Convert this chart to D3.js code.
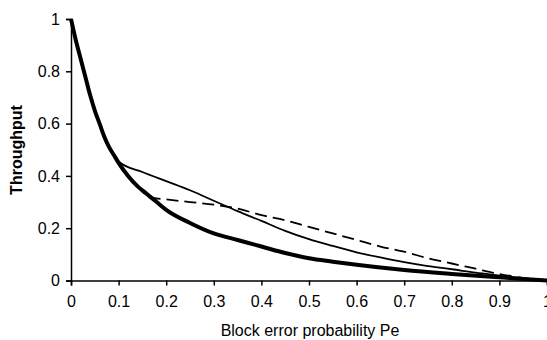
<!DOCTYPE html>
<html>
<head>
<meta charset="utf-8">
<script src="https://cdn.jsdelivr.net/npm/d3@7"></script>
<style>
  body { margin: 0; background: #fff; }
  svg text { font-family: "Liberation Sans", Arial, sans-serif; fill: #000; }
</style>
</head>
<body>
<svg id="chart" width="547" height="340"></svg>
<script>
// values
var xTicks = [0, 0.1, 0.2, 0.3, 0.4, 0.5, 0.6, 0.7, 0.8, 0.9, 1];
var yTicks = [0, 0.2, 0.4, 0.6, 0.8, 1];

// thick curve
var thickPe = [0, 0.01, 0.02, 0.03, 0.04, 0.05, 0.06, 0.07, 0.08, 0.09, 0.1, 0.12, 0.14, 0.16, 0.18, 0.2, 0.25, 0.3, 0.35, 0.4, 0.45, 0.5, 0.55, 0.6, 0.7, 0.8, 0.9, 1];
var thickT  = [1, 0.92, 0.85, 0.78, 0.71, 0.65, 0.6, 0.55, 0.51, 0.48, 0.45, 0.4, 0.36, 0.33, 0.3, 0.27, 0.22, 0.18, 0.155, 0.13, 0.105, 0.085, 0.072, 0.06, 0.04, 0.025, 0.012, 0];

// thin solid curve
var thinPe = [0, 0.01, 0.02, 0.03, 0.04, 0.05, 0.06, 0.07, 0.08, 0.09, 0.1, 0.15, 0.2, 0.25, 0.3, 0.35, 0.4, 0.45, 0.5, 0.55, 0.6, 0.65, 0.7, 0.75, 0.8, 0.85, 0.9, 0.95, 1];
var thinT  = [1, 0.92, 0.85, 0.78, 0.71, 0.65, 0.6, 0.55, 0.51, 0.48, 0.455, 0.415, 0.38, 0.345, 0.305, 0.265, 0.228, 0.19, 0.158, 0.132, 0.108, 0.088, 0.07, 0.055, 0.043, 0.03, 0.019, 0.008, 0];

// dashed curve
var dashPe = [0, 0.01, 0.02, 0.03, 0.04, 0.05, 0.06, 0.07, 0.08, 0.09, 0.1, 0.12, 0.14, 0.165, 0.2, 0.25, 0.3, 0.35, 0.4, 0.45, 0.5, 0.55, 0.6, 0.65, 0.7, 0.75, 0.8, 0.85, 0.9, 0.95, 1];
var dashT  = [1, 0.92, 0.85, 0.78, 0.71, 0.65, 0.6, 0.55, 0.51, 0.48, 0.45, 0.4, 0.36, 0.318, 0.31, 0.3, 0.29, 0.275, 0.25, 0.23, 0.205, 0.18, 0.155, 0.13, 0.11, 0.085, 0.065, 0.045, 0.025, 0.01, 0];

var svg = d3.select("#chart");

var x = d3.scaleLinear().domain([0, 1]).range([71, 547]);
var y = d3.scaleLinear().domain([0, 1]).range([280.5, 19]);

// axes
var xAxis = svg.append("g")
    .attr("transform", "translate(0," + y(0) + ")")
    .call(d3.axisBottom(x).tickValues(xTicks).tickSize(5).tickPadding(10)
        .tickFormat(d => d3.format("")(d)));
var yAxis = svg.append("g")
    .attr("transform", "translate(" + x(0) + ",0)")
    .call(d3.axisLeft(y).tickValues(yTicks).tickSize(5).tickPadding(6)
        .tickFormat(d => d3.format("")(d)));

[xAxis, yAxis].forEach(function(a){
    a.select(".domain").attr("stroke", "#000").attr("stroke-width", 1.5);
    a.selectAll(".tick line").attr("stroke", "#000").attr("stroke-width", 1.5);
    a.selectAll(".tick text")
        .style("font-family", "'Liberation Sans', Arial, sans-serif")
        .style("font-size", "16px")
        .attr("fill", "#000");
});

var line = d3.line()
    .x(d => x(d[0]))
    .y(d => y(d[1]))
    .curve(d3.curveMonotoneX);

var series = [
    { pe: dashPe,  t: dashT,  width: 1.8, dash: "12,6" },
    { pe: thinPe,  t: thinT,  width: 1.8, dash: null },
    { pe: thickPe, t: thickT, width: 4,   dash: null }
];

series.forEach(function(s){
    svg.append("path")
        .datum(s.pe.map((p, i) => [p, s.t[i]]))
        .attr("fill", "none")
        .attr("stroke", "#000")
        .attr("stroke-width", s.width)
        .attr("stroke-dasharray", s.dash)
        .attr("d", line);
});

// axis titles
svg.append("text")
    .attr("x", 310)
    .attr("y", 336)
    .attr("text-anchor", "middle")
    .style("font-size", "16px")
    .text("Block error probability Pe");

svg.append("text")
    .attr("transform", "translate(22,150) rotate(-90)")
    .attr("text-anchor", "middle")
    .style("font-size", "16px")
    .style("font-weight", "bold")
    .text("Throughput");
</script>
</body>
</html>
